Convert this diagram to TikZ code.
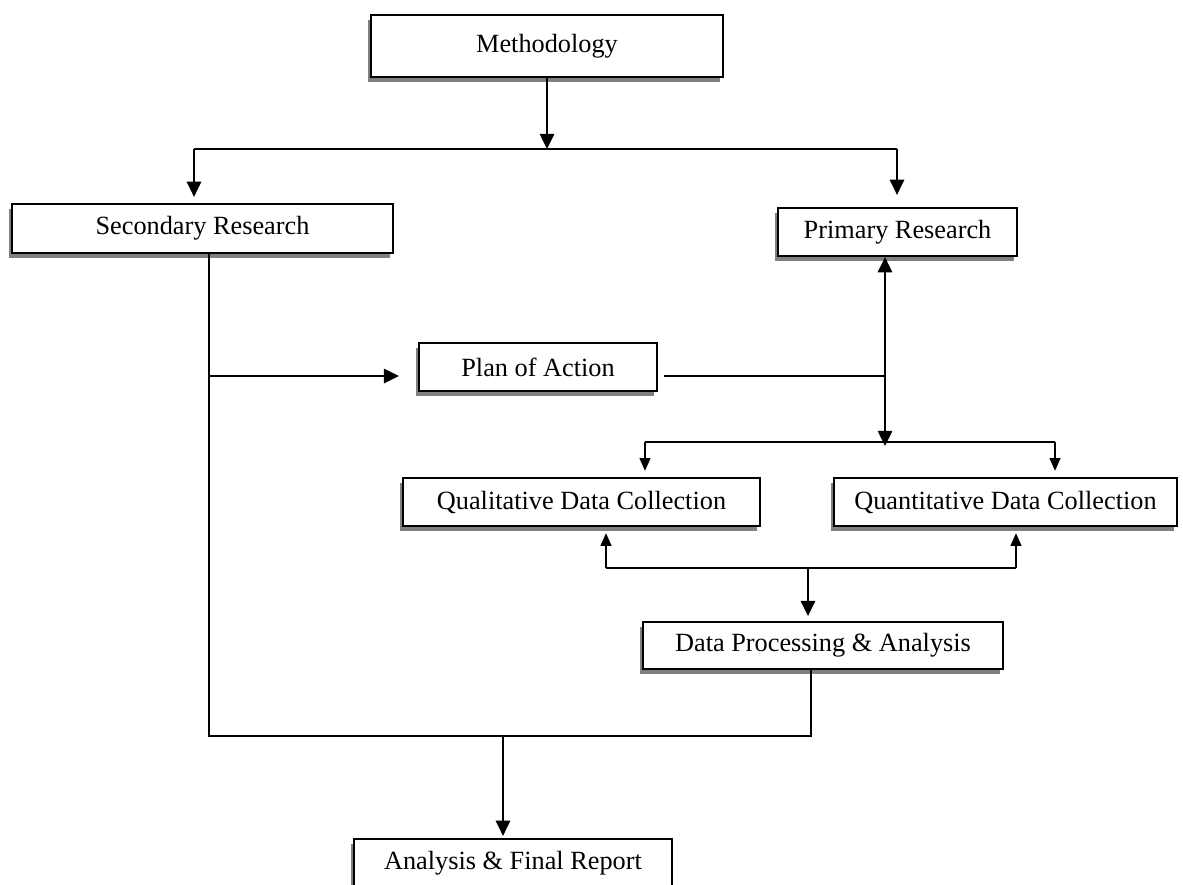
\documentclass[tikz,border=0pt]{standalone}
\usepackage{fontspec}
\setmainfont{Liberation Serif}
\usetikzlibrary{arrows.meta,shadows}
\tikzset{
  stepbox/.style={draw, line width=1.6pt, fill=white, inner sep=0pt,
    minimum height=1.2cm,
    drop shadow={shadow xshift=-0.075cm, shadow yshift=-0.125cm, fill=gray, opacity=1},
    font=\fontsize{18.7}{22}\selectfont},
  wire/.style={line width=1.3pt},
  link/.style={wire, -{Triangle[length=0.38cm,width=0.36cm]}},
  smalllink/.style={wire, -{Triangle[length=0.32cm,width=0.27cm]}},
}
\begin{document}
\begin{tikzpicture}[x=0.025cm,y=-0.025cm]
    \useasboundingbox (0,0) rectangle (1183,884);
    % boxes, placed at pixel centres
    \node[stepbox, minimum width=8.8cm, minimum height=1.55cm] (meth) at (547,46) {Methodology};
    \node[stepbox, minimum width=9.525cm, minimum height=1.225cm] (sec) at (202.5,228.5) {Secondary Research};
    \node[stepbox, minimum width=5.975cm] (prim) at (897.5,232) {Primary Research};
    \node[stepbox, minimum width=5.95cm] (plan) at (538,367) {Plan of Action};
    \node[stepbox, minimum width=8.925cm] (qual) at (581.5,502) {Qualitative Data Collection};
    \node[stepbox, minimum width=8.575cm] (quant) at (1005.5,502) {Quantitative Data Collection};
    \node[stepbox, minimum width=9cm, minimum height=1.175cm] (dpa) at (823,645.5) {Data Processing \& Analysis};
    \node[stepbox, minimum width=7.95cm] (final) at (513,863) {Analysis \& Final Report};

    \coordinate (split) at (547,149);
    \coordinate (secdrop) at (194,149);
    \coordinate (primdrop) at (897,149);
    \draw[link] (meth.south) -- (split);
    \draw[wire] (secdrop) -- (primdrop);
    \draw[link, shorten >=0.15cm] (secdrop) -- (secdrop |- sec.north);
    \draw[link, shorten >=0.3cm] (primdrop) -- (primdrop |- prim.north);

    % secondary research branch
    \coordinate (planin) at (209,376);
    \coordinate (secdown) at (209,736);
    \coordinate (dpadown) at (811,736);
    \coordinate (report) at (503,736);
    \draw[link, shorten >=0.47cm] (planin) -- (planin -| plan.west);
    \draw[wire] (secdown |- sec.south) -- (secdown) -- (dpadown) -- (dpadown |- dpa.south);
    \draw[link, shorten >=0.05cm] (report) -- (report |- final.north);

    % primary research branch
    \coordinate (planout) at (885,376);
    \coordinate (fork) at (885,446);
    \coordinate (qualdrop) at (645,442);
    \coordinate (quantdrop) at (1055,442);
    \draw[wire, shorten <=0.15cm] (plan.east |- planout) -- (planout);
    \draw[wire, {Triangle[length=0.38cm,width=0.36cm]}-{Triangle[length=0.38cm,width=0.36cm]}] (fork |- prim.south) -- (fork);
    \draw[wire] (qualdrop) -- (quantdrop);
    \draw[smalllink, shorten >=0.15cm] (qualdrop) -- (qualdrop |- qual.north);
    \draw[smalllink, shorten >=0.15cm] (quantdrop) -- (quantdrop |- quant.north);

    \coordinate (qualup) at (606,568);
    \coordinate (quantup) at (1016,568);
    \coordinate (merge) at (808,568);
    \draw[wire] (qualup) -- (quantup);
    \draw[smalllink, shorten >=0.15cm] (qualup) -- (qualup |- qual.south);
    \draw[smalllink, shorten >=0.15cm] (quantup) -- (quantup |- quant.south);
    \draw[link, shorten >=0.12cm] (merge) -- (merge |- dpa.north);
\end{tikzpicture}
\end{document}
